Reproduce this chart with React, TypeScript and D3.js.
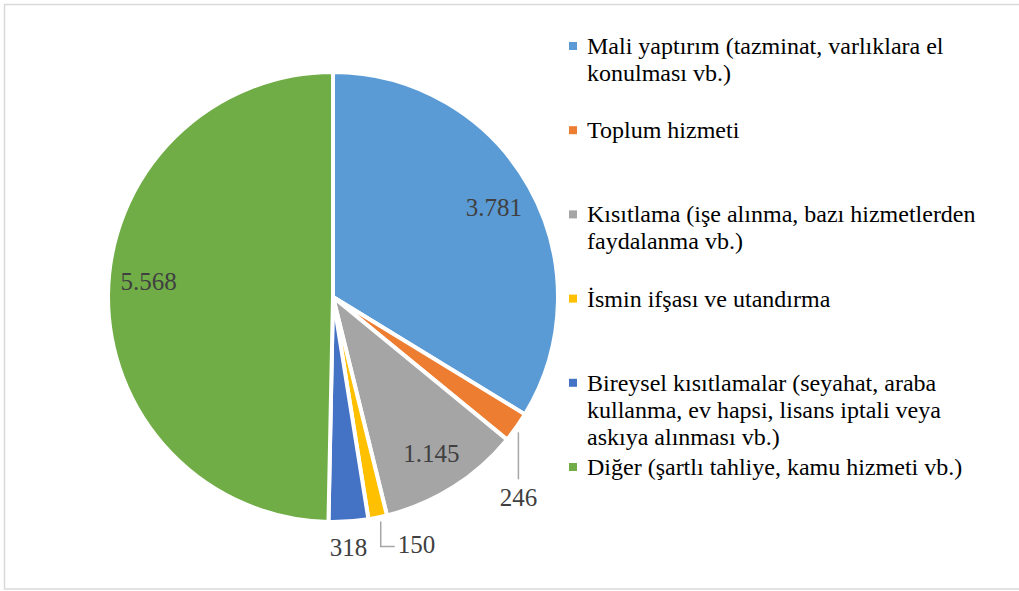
import React from 'react';
import { pie, arc, scalePoint } from 'd3';

// categories (legend lines as they wrap in the original)
const categories = [
  ['Mali yaptırım (tazminat, varlıklara el', 'konulması vb.)'],
  ['Toplum hizmeti'],
  ['Kısıtlama (işe alınma, bazı hizmetlerden', 'faydalanma vb.)'],
  ['İsmin ifşası ve utandırma'],
  ['Bireysel kısıtlamalar (seyahat, araba', 'kullanma, ev hapsi, lisans iptali veya', 'askıya alınması vb.)'],
  ['Diğer (şartlı tahliye, kamu hizmeti vb.)'],
];
const values = [3781, 246, 1145, 150, 318, 5568];
const valueLabels = ['3.781', '246', '1.145', '150', '318', '5.568'];
const colors = ['#5B9BD5', '#ED7D31', '#A5A5A5', '#FFC000', '#4472C4', '#70AD47'];
// how each data label is placed: inside the slice, or outside with a leader
const labelMode = ['inside', 'below', 'inside', 'elbow', 'under', 'inside'];

function App() {
  const width = 1019;
  const height = 591;
  const cx = 333;
  const cy = 297;
  const radius = 225;

  const slices = pie<number>().sort(null).value(d => d)(values);
  const arcGen = arc<any>().innerRadius(0).outerRadius(radius);
  const labelArc = arc<any>().innerRadius(radius * 0.82).outerRadius(radius * 0.82);
  const edgeArc = arc<any>().innerRadius(radius).outerRadius(radius);

  const legendY = scalePoint<number>().domain(categories.map((_, i) => i)).range([54, 475]);
  const lineH = 27;

  const font = "'Liberation Serif', 'Times New Roman', Tinos, 'DejaVu Serif', serif";
  const serif = { fontFamily: font };

  return (
    <svg width={width} height={height} style={{ position: 'absolute', left: 0, top: 0 }}>
      <rect x={0} y={0} width={width} height={height} fill="#fff" />
      <rect x={4.5} y={4.5} width={width + 10} height={584.5} fill="none" stroke="#d9d9d9" strokeWidth={1.5} />
      <g transform={`translate(${cx},${cy})`}>
        {slices.map((s, i) => (
          <path key={i} d={arcGen(s) || ''} fill={colors[i]} stroke="#fff" strokeWidth={4} strokeLinejoin="round" />
        ))}
        {slices.map((s, i) => {
          const mode = labelMode[i];
          if (mode === 'inside') {
            const [x, y] = labelArc.centroid(s);
            // the big left label sits a little above the horizontal mid-line, as in the original
            const nudge = Math.abs(y) < 20 ? -14 : 0;
            return (
              <text key={i} x={x} y={y + nudge} dy="0.35em" textAnchor="middle" style={serif} fontSize={25} fill="#404040">
                {valueLabels[i]}
              </text>
            );
          }
          const [ex, ey] = edgeArc.centroid(s);
          if (mode === 'below') {
            return (
              <g key={i}>
                <line x1={ex + 2} y1={ey + 5} x2={ex + 2} y2={ey + 52} stroke="#a6a6a6" strokeWidth={1.5} />
                <text x={ex + 2} y={ey + 70} dy="0.35em" textAnchor="middle" style={serif} fontSize={25} fill="#404040">
                  {valueLabels[i]}
                </text>
              </g>
            );
          }
          if (mode === 'elbow') {
            return (
              <g key={i}>
                <polyline points={`${ex + 3},${ey + 4} ${ex + 3},${ey + 29} ${ex + 17},${ey + 29}`} fill="none" stroke="#a6a6a6" strokeWidth={1.5} />
                <text x={ex + 20} y={ey + 27} dy="0.35em" textAnchor="start" style={serif} fontSize={25} fill="#404040">
                  {valueLabels[i]}
                </text>
              </g>
            );
          }
          return (
            <text key={i} x={ex} y={ey + 26} dy="0.35em" textAnchor="middle" style={serif} fontSize={25} fill="#404040">
              {valueLabels[i]}
            </text>
          );
        })}
      </g>
      <g>
        {categories.map((lines, i) => {
          const y0 = legendY(i) || 0;
          return (
            <g key={i}>
              <rect x={569} y={y0 - 12} width={8} height={8} fill={colors[i]} />
              {lines.map((t, j) => (
                <text key={j} x={587} y={y0 + j * lineH} style={serif} fontSize={24} fill="#000">
                  {t}
                </text>
              ))}
            </g>
          );
        })}
      </g>
    </svg>
  );
}

export default App;
